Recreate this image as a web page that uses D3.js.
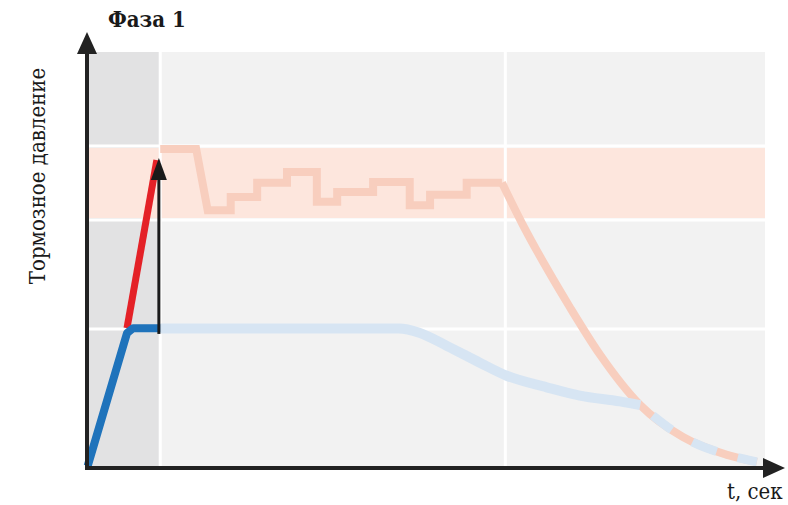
<!DOCTYPE html>
<html><head><meta charset="utf-8">
<script src="https://cdn.jsdelivr.net/npm/d3@7"></script>
<style>body{margin:0;background:#fff}svg{display:block}.serif{font-family:"DejaVu Serif Condensed","DejaVu Serif",serif;font-stretch:condensed}</style>
</head><body>
<svg id="c" width="788" height="505"></svg>
<script>
// ---- data (arbitrary units: time 0..10, pressure 0..10) ----
const title = "Фаза 1";
const yLabel = "Тормозное давление";
const xLabel = "t, сек";
const phaseEnd = 1.08;
const xGrid = [1.08, 6.17];
const yGrid = [3.31, 5.94, 7.73];
const bandRange = [5.99, 7.68];

const redX = [0.59, 1.03];
const redY = [3.33, 7.39];
const blueX = [0.01, 0.59, 0.68, 1.08];
const blueY = [0.0, 3.21, 3.33, 3.33];
const arrowX = 1.06, arrowY = [3.19, 7.44];

const pinkStepX = [1.08, 1.61, 1.78, 2.12, 2.12, 2.51, 2.51, 2.95, 2.95, 3.39, 3.39, 3.69, 3.69, 4.22, 4.22, 4.76, 4.76, 5.06, 5.06, 5.60, 5.60, 6.12];
const pinkStepY = [7.66, 7.66, 6.18, 6.18, 6.50, 6.50, 6.84, 6.84, 7.10, 7.10, 6.38, 6.38, 6.62, 6.62, 6.86, 6.86, 6.30, 6.30, 6.55, 6.55, 6.84, 6.84];
const pinkDecayX = [6.12, 6.43, 6.78, 7.12, 7.57, 8.16, 8.79, 9.44, 9.88];
const pinkDecayY = [6.84, 5.82, 4.78, 3.84, 2.68, 1.47, 0.70, 0.27, 0.10];
const blueFadeX = [1.08, 4.60, 4.90, 5.31, 5.80, 6.19, 6.78, 7.27, 7.86, 8.16];
const blueFadeY = [3.32, 3.32, 3.22, 2.90, 2.49, 2.18, 1.90, 1.70, 1.56, 1.47];
const tailX = [8.16, 8.79, 9.44, 9.88];
const tailY = [1.47, 0.70, 0.27, 0.10];

// ---- drawing ----
const svg = d3.select("#c");
const x = d3.scaleLinear().domain([0, 10]).range([87, 765]);
const y = d3.scaleLinear().domain([0, 10]).range([466, 52]);
const zip = (a, b) => a.map((v, i) => [v, b[i]]);
const lin = d3.line().x(d => x(d[0])).y(d => y(d[1]));
const smooth = d3.line().x(d => x(d[0])).y(d => y(d[1])).curve(d3.curveMonotoneX);

// backgrounds
svg.append("rect").attr("x", x(0)).attr("y", y(10)).attr("width", x(10) - x(0)).attr("height", y(0) - y(10)).attr("fill", "#f2f2f2");
svg.append("rect").attr("x", x(0)).attr("y", y(10)).attr("width", x(phaseEnd) - x(0)).attr("height", y(0) - y(10)).attr("fill", "#e2e2e3");
svg.append("rect").attr("x", x(0)).attr("y", y(bandRange[1])).attr("width", x(10) - x(0)).attr("height", y(bandRange[0]) - y(bandRange[1])).attr("fill", "#fde6dd");
// grid
svg.selectAll(".gx").data(xGrid).enter().append("line").attr("x1", d => x(d)).attr("x2", d => x(d)).attr("y1", y(10)).attr("y2", y(0)).attr("stroke", "#fff").attr("stroke-width", 3);
svg.selectAll(".gy").data(yGrid).enter().append("line").attr("x1", x(0)).attr("x2", x(10)).attr("y1", d => y(d)).attr("y2", d => y(d)).attr("stroke", "#fff").attr("stroke-width", 3);

// faded lines
const pinkFade = "#f8cebe";
svg.append("path").attr("d", lin(zip(pinkStepX, pinkStepY))).attr("fill", "none").attr("stroke", pinkFade).attr("stroke-width", 8);
svg.append("path").attr("d", smooth(zip(pinkDecayX, pinkDecayY))).attr("fill", "none").attr("stroke", pinkFade).attr("stroke-width", 8);
svg.append("path").attr("d", smooth(zip(blueFadeX, blueFadeY))).attr("fill", "none").attr("stroke", "#d7e5f3").attr("stroke-width", 10);
svg.append("path").attr("d", smooth(zip(tailX, tailY))).attr("fill", "none").attr("stroke", "#d7e5f3").attr("stroke-width", 9).attr("stroke-dasharray", "0 16 24 24 26 22 40");

// active lines
svg.append("path").attr("d", lin(zip(redX, redY))).attr("fill", "none").attr("stroke", "#e42127").attr("stroke-width", 7);
svg.append("path").attr("d", lin(zip(blueX, blueY))).attr("fill", "none").attr("stroke", "#1f73bb").attr("stroke-width", 8).attr("stroke-linejoin", "round");

// small arrow
svg.append("line").attr("x1", x(arrowX)).attr("x2", x(arrowX)).attr("y1", y(arrowY[0])).attr("y2", y(arrowY[1]) + 14).attr("stroke", "#1a1a1a").attr("stroke-width", 3);
svg.append("path").attr("d", `M${x(arrowX)},${y(arrowY[1])} l-8,22 l16,0 z`).attr("fill", "#1a1a1a");

// axes
svg.append("line").attr("x1", x(0)).attr("x2", x(0)).attr("y1", y(0) + 3).attr("y2", 48).attr("stroke", "#222").attr("stroke-width", 4);
svg.append("path").attr("d", `M${x(0)},32 l-10,22 l20,0 z`).attr("fill", "#222");
svg.append("line").attr("x1", x(0) - 2).attr("x2", 768).attr("y1", 468).attr("y2", 468).attr("stroke", "#222").attr("stroke-width", 4);
svg.append("path").attr("d", `M785,468 l-22,-10 l0,20 z`).attr("fill", "#222");

// text
svg.append("text").attr("class", "serif").attr("x", 108).attr("y", 27).attr("font-weight", "bold").attr("font-size", 22).attr("fill", "#1a1a1a").text(title);
svg.append("text").attr("class", "serif").attr("transform", "translate(45,176) rotate(-90)").attr("text-anchor", "middle").attr("font-size", 22).attr("fill", "#1a1a1a").text(yLabel);
svg.append("text").attr("class", "serif").attr("x", 727).attr("y", 499).attr("font-size", 22).attr("fill", "#1a1a1a").text(xLabel);
</script>
</body></html>
